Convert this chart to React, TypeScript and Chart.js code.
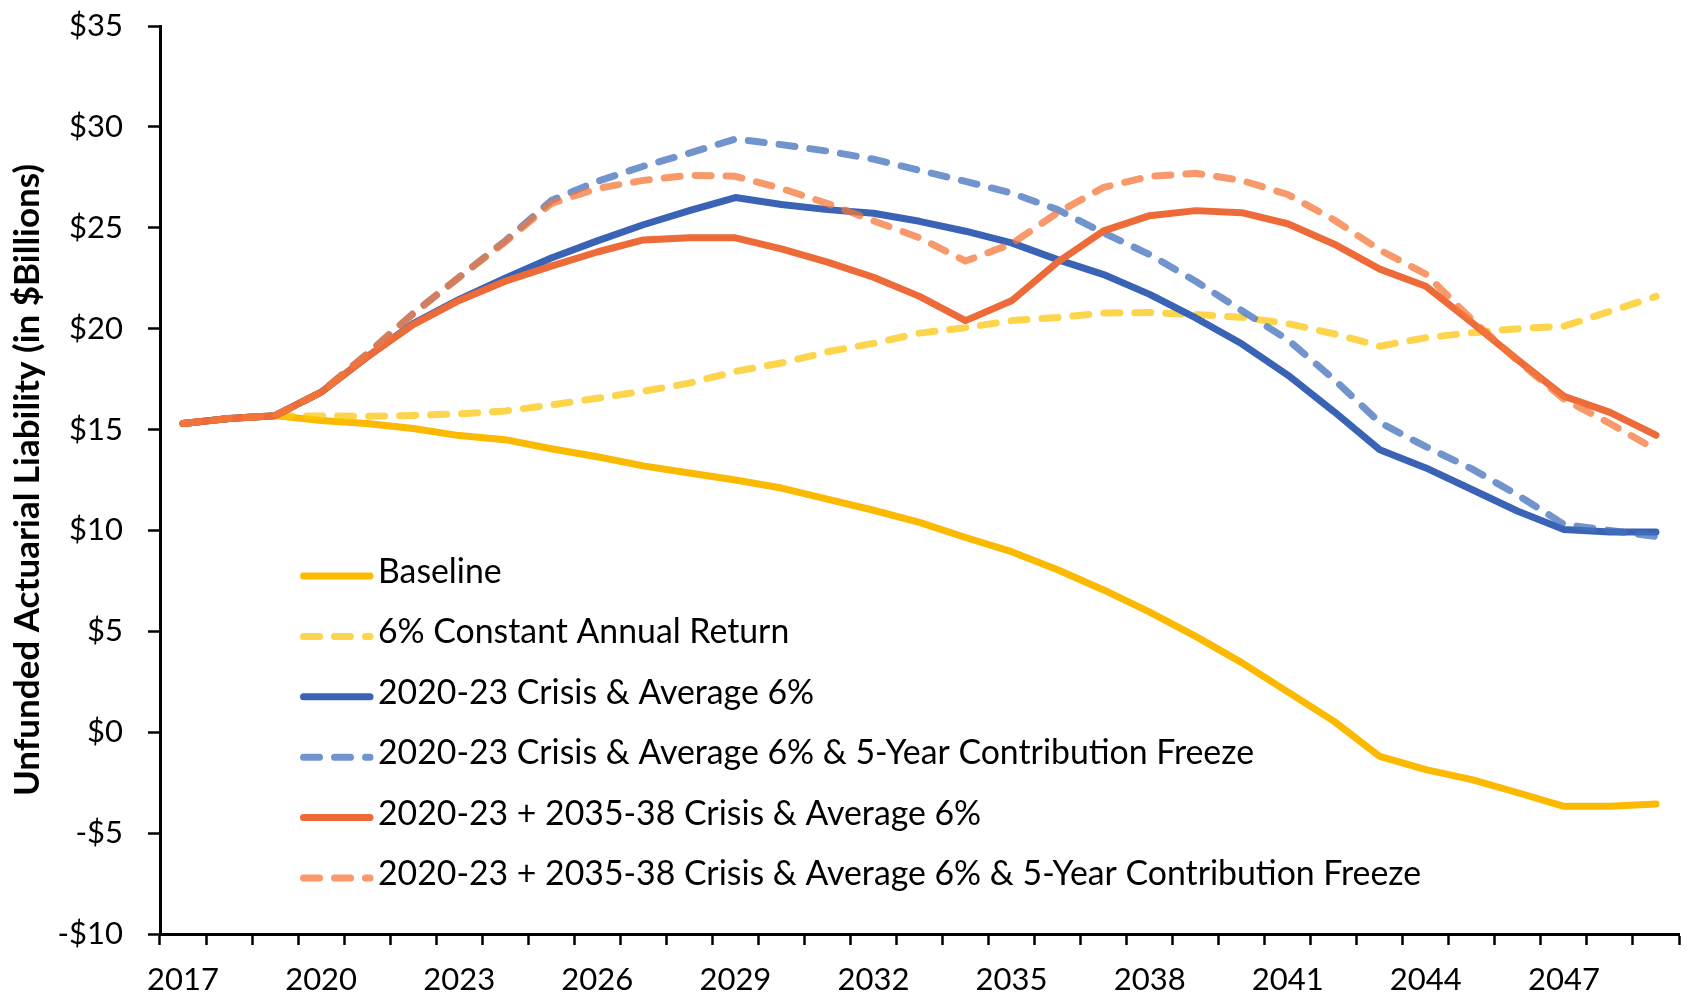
import React, { useEffect, useRef } from 'react';
import { Chart, registerables } from 'chart.js';

Chart.register(...registerables);

const years = [
  '2017', '2018', '2019', '2020', '2021', '2022', '2023', '2024', '2025', '2026', '2027',
  '2028', '2029', '2030', '2031', '2032', '2033', '2034', '2035', '2036', '2037', '2038',
  '2039', '2040', '2041', '2042', '2043', '2044', '2045', '2046', '2047', '2048', '2049',
];

const shownYearLabels = ['2017', '2020', '2023', '2026', '2029', '2032', '2035', '2038', '2041', '2044', '2047'];

const baseline = [
  15.3, 15.55, 15.69, 15.45, 15.3, 15.05, 14.7, 14.5, 14.05, 13.65, 13.2,
  12.85, 12.5, 12.1, 11.55, 11.0, 10.4, 9.65, 8.95, 8.05, 7.05, 5.95,
  4.75, 3.45, 2.0, 0.55, -1.2, -1.85, -2.35, -3.0, -3.67, -3.67, -3.56,
];

const constant6 = [
  15.3, 15.55, 15.69, 15.67, 15.66, 15.7, 15.78, 15.92, 16.22, 16.55, 16.9,
  17.3, 17.88, 18.3, 18.85, 19.27, 19.78, 20.05, 20.4, 20.55, 20.78, 20.8,
  20.7, 20.56, 20.25, 19.75, 19.13, 19.55, 19.8, 20.0, 20.12, 20.86, 21.6,
];

const crisis2020 = [
  15.3, 15.55, 15.69, 16.85, 18.6, 20.25, 21.45, 22.5, 23.5, 24.35, 25.15,
  25.85, 26.5, 26.15, 25.9, 25.72, 25.32, 24.83, 24.25, 23.42, 22.68, 21.7,
  20.53, 19.25, 17.7, 15.9, 14.0, 13.1, 12.03, 10.95, 10.05, 9.92, 9.92,
];

const crisis2020Freeze = [
  15.3, 15.55, 15.69, 16.85, 18.75, 20.75, 22.55, 24.35, 26.35, 27.3, 28.05,
  28.7, 29.4, 29.12, 28.8, 28.4, 27.85, 27.3, 26.72, 25.9, 24.75, 23.67,
  22.35, 20.9, 19.45, 17.5, 15.35, 14.15, 13.05, 11.75, 10.3, 10.0, 9.7,
];

const crisis2035 = [
  15.3, 15.55, 15.69, 16.85, 18.6, 20.2, 21.4, 22.35, 23.1, 23.8, 24.4,
  24.5, 24.5, 23.95, 23.3, 22.55, 21.6, 20.4, 21.38, 23.3, 24.85, 25.6,
  25.85, 25.75, 25.2, 24.2, 22.95, 22.1, 20.3, 18.45, 16.65, 15.85, 14.72,
];

const crisis2035Freeze = [
  15.3, 15.55, 15.69, 16.85, 18.75, 20.75, 22.55, 24.3, 26.2, 26.95, 27.35,
  27.6, 27.55, 26.95, 26.2, 25.35, 24.5, 23.35, 24.2, 25.75, 27.0, 27.55,
  27.7, 27.35, 26.65, 25.4, 23.9, 22.7, 20.45, 18.4, 16.5, 15.3, 14.0,
];

const seriesNames = [
  'Baseline',
  '6% Constant Annual Return',
  '2020-23 Crisis & Average 6%',
  '2020-23 Crisis & Average 6% & 5-Year Contribution Freeze',
  '2020-23 + 2035-38 Crisis & Average 6%',
  '2020-23 + 2035-38 Crisis & Average 6% & 5-Year Contribution Freeze',
];

const yTitle = 'Unfunded Actuarial Liability (in $Billions)';

const FONT = 'Lato, "Open Sans", sans-serif';
const DASH = [16, 15];
const LINE_W = 7;

const insideLegend = {
  id: 'insideLegend',
  afterDatasetsDraw(chart: any) {
    const ctx = chart.ctx as CanvasRenderingContext2D;
    const x0 = 303.5;
    const x1 = 370;
    const y0 = 576;
    const step = 60.4;
    ctx.save();
    chart.data.datasets.forEach((ds: any, i: number) => {
      const y = y0 + i * step;
      ctx.beginPath();
      ctx.setLineDash(ds.borderDash || []);
      ctx.lineCap = 'round';
      ctx.lineWidth = ds.borderWidth;
      ctx.strokeStyle = ds.borderColor;
      ctx.moveTo(x0, y);
      ctx.lineTo(x1, y);
      ctx.stroke();
      ctx.setLineDash([]);
      ctx.fillStyle = '#000';
      ctx.font = `33.8px ${FONT}`;
      ctx.textBaseline = 'alphabetic';
      ctx.textAlign = 'left';
      ctx.fillText(ds.label, 378, y + 7);
    });
    ctx.restore();
  },
};

export default function App() {
  const canvasRef = useRef<HTMLCanvasElement | null>(null);

  useEffect(() => {
    let chart: Chart | null = null;
    let cancelled = false;

    const build = () => {
      if (cancelled || !canvasRef.current) return;
      Chart.defaults.font.family = FONT;
      const mk = (label: string, data: number[], color: string, dashed: boolean, order: number) => ({
        label,
        data,
        borderColor: color,
        backgroundColor: color,
        borderWidth: LINE_W,
        borderDash: dashed ? DASH : [],
        borderCapStyle: 'round',
        borderJoinStyle: 'round',
        pointRadius: 0,
        pointHoverRadius: 0,
        tension: 0,
        fill: false,
        order,
      });
      chart = new Chart(canvasRef.current, {
        type: 'line',
        data: {
          labels: years,
          datasets: [
            mk(seriesNames[0], baseline, '#FBB900', false, 6),
            mk(seriesNames[1], constant6, 'rgba(252,199,18,0.75)', true, 5),
            mk(seriesNames[2], crisis2020, '#3A63B5', false, 4),
            mk(seriesNames[3], crisis2020Freeze, 'rgba(67,112,187,0.75)', true, 3),
            mk(seriesNames[4], crisis2035, '#EC6B38', false, 2),
            mk(seriesNames[5], crisis2035Freeze, 'rgba(246,119,58,0.75)', true, 1),
          ] as any,
        },
        options: {
          responsive: false,
          animation: false,
          devicePixelRatio: 1,
          layout: { padding: { top: 26, right: 11, bottom: 0, left: 0 } },
          plugins: {
            legend: { display: false },
            tooltip: { enabled: false },
          },
          scales: {
            x: {
              type: 'category',
              offset: true,
              afterFit: (s: any) => { s.height = 64; },
              grid: {
                offset: true,
                drawOnChartArea: false,
                drawTicks: true,
                tickLength: 11,
                tickWidth: 2.5,
                tickColor: '#000',
                color: '#000',
              },
              border: { display: true, color: '#000', width: 3 },
              ticks: {
                autoSkip: false,
                maxRotation: 0,
                minRotation: 0,
                padding: 16,
                color: '#000',
                font: { size: 31, family: FONT },
                callback: (_v: any, index: number) =>
                  shownYearLabels.includes(years[index]) ? years[index] : '',
              },
            },
            y: {
              min: -10,
              max: 35,
              afterFit: (s: any) => {
                s.width = 160;
                s.paddingTop = 0;
                s.paddingBottom = 0;
              },
              grid: {
                drawOnChartArea: false,
                drawTicks: true,
                tickLength: 12,
                tickWidth: 2.5,
                tickColor: '#000',
                color: '#000',
              },
              border: { display: true, color: '#000', width: 3 },
              ticks: {
                stepSize: 5,
                padding: 25,
                color: '#000',
                font: { size: 31, family: FONT },
                callback: (v: any) => {
                  const n = Number(v);
                  return n < 0 ? `-$${-n}` : `$${n}`;
                },
              },
              title: {
                display: true,
                text: yTitle,
                color: '#000',
                font: { size: 35, weight: 'bold', family: FONT, lineHeight: 1.2 },
                padding: { top: 7, bottom: 0 },
              },
            },
          },
        } as any,
        plugins: [insideLegend],
      });
    };

    const p = (document as any).fonts
      ? Promise.all([
          (document as any).fonts.load(`34px Lato`),
          (document as any).fonts.load(`bold 35px Lato`),
        ]).catch(() => null)
      : Promise.resolve();
    p.then(build);

    return () => {
      cancelled = true;
      if (chart) chart.destroy();
    };
  }, []);

  return (
    <div style={{ position: 'absolute', left: 0, top: 0, width: 1690, height: 998, background: '#fff' }}>
      <canvas ref={canvasRef} width={1690} height={998} style={{ display: 'block', width: 1690, height: 998 }} />
    </div>
  );
}
